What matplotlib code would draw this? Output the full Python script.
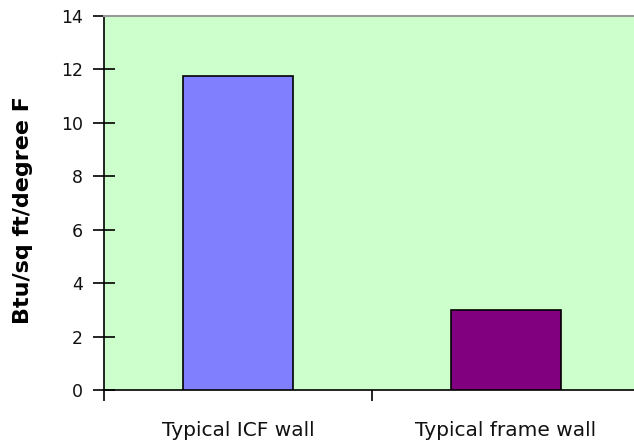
import matplotlib
matplotlib.use("Agg")
import matplotlib.pyplot as plt
from matplotlib.ticker import FixedLocator

categories = ["Typical ICF wall", "Typical frame wall"]
values = [11.75, 3.0]
colors = ["#8080FF", "#800080"]
yticks = [0, 2, 4, 6, 8, 10, 12, 14]

plt.rcParams['font.family'] = ['DejaVu Sans']

fig = plt.figure(figsize=(6.34, 4.46), dpi=100)
W, H = 634, 446
ax = fig.add_axes([104 / W, (H - 390) / H, (640 - 104) / W, (390 - 16) / H])
ax.set_facecolor("#CCFFCC")

x = list(range(len(categories)))
ax.bar(x, values, width=0.41, color=colors, edgecolor="black", linewidth=1.2, zorder=3)

ax.set_xlim(-0.5, 1.5)
ax.set_ylim(0, 14)
ax.set_yticks(yticks)
ax.set_yticklabels([str(v) for v in yticks], fontsize=12.5, color="#111111")
ax.tick_params(axis='y', direction='inout', length=16, width=1.2, pad=7)

ax.set_xticks(x)
ax.set_xticklabels(categories, fontsize=14.5, color="#111111")
ax.tick_params(axis='x', which='major', length=0, pad=22)
ax.xaxis.set_minor_locator(FixedLocator([-0.5, 0.5, 1.5]))
ax.tick_params(axis='x', which='minor', direction='out', length=8, width=1.2)

for s in ['left', 'bottom']:
    ax.spines[s].set_color('black')
    ax.spines[s].set_linewidth(1.2)
ax.spines['top'].set_color('#999999')
ax.spines['top'].set_linewidth(1.5)
ax.spines['right'].set_visible(False)

ax.set_ylabel("Btu/sq ft/degree F", fontsize=16, fontweight='bold')
ax.yaxis.set_label_coords(-71 / (640 - 104), (390 - 210) / (390 - 16))

fig.savefig("out.png", dpi=100)
